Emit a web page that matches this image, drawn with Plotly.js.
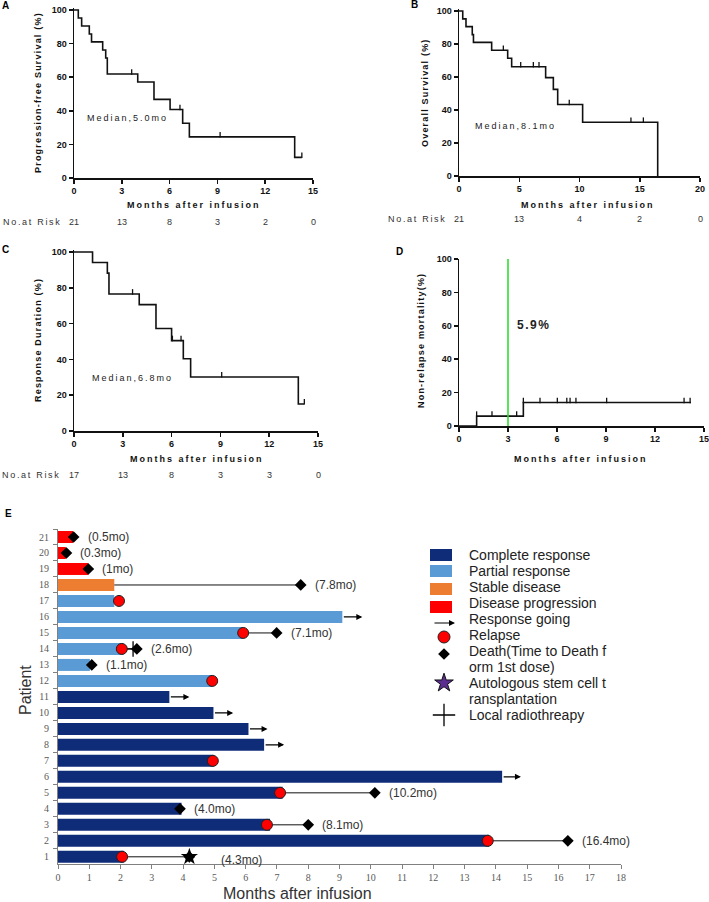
<!DOCTYPE html>
<html><head><meta charset="utf-8">
<script src="https://cdn.plot.ly/plotly-3.0.1.min.js"></script>
<style>
html,body{margin:0;padding:0;background:#fff;}
#chart{width:709px;height:902px;}
text[data-unformatted="<b>Months after infusion</b>"]{letter-spacing:2px;}
text[data-unformatted^="<b>Progression"],text[data-unformatted^="<b>Overall"],text[data-unformatted^="<b>Response Dur"],text[data-unformatted^="<b>Non-relapse"]{letter-spacing:1.2px;}
text[data-unformatted^="Median"]{letter-spacing:2px;}
text[data-unformatted="No.at Risk"]{letter-spacing:1.7px;}
text[data-unformatted="<b>5.9%</b>"]{letter-spacing:1.5px;}
</style></head>
<body><div id="chart"></div>
<script>
// ---------------- DATA ----------------
// A: Progression-free survival
const pfsTime = [0, 0.27, 0.48, 0.96, 1.1, 1.8, 1.99, 2.09, 4.0, 5.02, 6.03, 6.82, 7.24, 13.85, 14.3];
const pfsSurv = [100, 95.2, 90.5, 85.7, 81.0, 76.2, 71.4, 61.9, 57.1, 46.8, 40.8, 32.6, 24.5, 12.3, 12.3];
const pfsCensor = [3.62, 6.65, 9.17, 14.3];
const pfsRiskTimes = [0, 3, 6, 9, 12, 15];
const pfsRisk = [21, 13, 8, 3, 2, 0];
// B: Overall survival
const osTime = [0, 0.31, 0.58, 1.1, 1.2, 2.71, 4.04, 4.37, 7.19, 7.83, 8.19, 10.26, 16.49];
const osSurv = [100, 95.2, 90.5, 85.7, 81.0, 76.2, 71.4, 66.2, 59.6, 52.5, 43.3, 32.6, 0];
const osCensor = [3.68, 5.12, 6.17, 6.64, 9.15, 14.27, 15.3];
const osRiskTimes = [0, 5, 10, 15, 20];
const osRisk = [21, 13, 4, 2, 0];
// C: Response duration
const drTime = [0, 1.14, 2.05, 2.15, 4.01, 5.04, 6.0, 6.72, 7.17, 13.79, 14.16];
const drResp = [100, 94.1, 88.2, 76.5, 70.6, 57.3, 50.5, 40.4, 30.2, 15.1, 15.1];
const drCensor = [3.6, 6.05, 6.58, 9.08, 14.16];
const drRiskTimes = [0, 3, 6, 9, 12, 15];
const drRisk = [17, 13, 8, 3, 3, 0];
// D: Non-relapse mortality
const nrmTime = [0, 1.08, 3.94, 14.2];
const nrmRate = [0, 5.9, 14.1, 14.1];
const nrmCensor = [1.08, 2.02, 3.53, 3.94, 4.96, 6.02, 6.6, 6.8, 7.16, 9.04, 13.78, 14.15];
const nrmLandmark = 3;
const nrmLandmarkLabel = '5.9%';
// E: swimmer plot
const patients = [1,2,3,4,5,6,7,8,9,10,11,12,13,14,15,16,17,18,19,20,21];
const bestResponse = ['CR','CR','CR','CR','CR','CR','CR','CR','CR','CR','CR','PR','PR','PR','PR','PR','PR','SD','PD','PD','PD'];
const durationMo = [2.1, 13.78, 6.78, 3.95, 7.18, 14.2, 4.97, 6.59, 6.09, 4.97, 3.56, 4.93, 1.02, 2.09, 5.9, 9.09, 1.8, 1.8, 0.97, 0.25, 0.48];
const relapsePatients = [1, 2, 3, 5, 7, 12, 14, 15, 17];
const relapseMo = [2.05, 13.74, 6.68, 7.1, 4.95, 4.93, 2.04, 5.92, 1.95];
const deathPatients = [1, 2, 3, 4, 5, 13, 14, 15, 18, 19, 20, 21];
const deathMo = [4.2, 16.3, 8.0, 3.9, 10.13, 1.08, 2.52, 6.99, 7.76, 0.97, 0.27, 0.5];
const deathLabels = ['(4.3mo)', '(16.4mo)', '(8.1mo)', '(4.0mo)', '(10.2mo)', '(1.1mo)', '(2.6mo)', '(7.1mo)', '(7.8mo)', '(1mo)', '(0.3mo)', '(0.5mo)'];
const ongoingPatients = [6, 8, 9, 10, 11, 16];
const ongoingArrowMo = [14.8, 7.23, 6.7, 5.6, 4.2, 9.73];
const asctPatients = [1];
const asctMo = [4.2];
const radioPatients = [14];
const radioMo = [2.4];
const responseNames = ['Complete response', 'Partial response', 'Stable disease', 'Disease progression'];
const responseKeys = ['CR', 'PR', 'SD', 'PD'];
const responseColors = ['#0f2c79', '#5b9bd5', '#ed7d31', '#ff0000'];
const legendLines = ['Complete response','Partial response','Stable disease','Disease progression','Response going','Relapse','Death(Time to Death f','orm 1st dose)','Autologous stem cell t','ransplantation','Local radiothreapy'];

// ---------------- HELPERS ----------------
const W = 709, H = 902;
const px = x => x / W, py = y => 1 - y / H;
const ARIAL = 'Arial, "Liberation Sans", sans-serif';
const SERIF = '"Liberation Serif", "Times New Roman", serif';
function stepAt(T, S, t) { let v = S[0]; for (let i = 0; i < T.length; i++) if (T[i] <= t + 1e-9) v = S[i]; return v; }
function yDom(y0px, y100px, top) { return [py(y0px), py(y100px - (y0px - y100px) * (top - 100) / 100)]; }

function kmAxis(domain, range, tickvals, anchor) {
  return { domain, range, tickmode: 'array', tickvals, anchor, showline: true, linecolor: '#111', linewidth: 1.5,
    ticks: 'outside', ticklen: 4, tickwidth: 1.5, tickcolor: '#111', showgrid: false, zeroline: false, fixedrange: true,
    ticklabeloverflow: 'allow',
    tickfont: { family: ARIAL, size: 9, color: '#111', weight: 'bold' } };
}

const traces = [];
function kmTraces(T, S, C, xa, ya) {
  traces.push({ type: 'scatter', mode: 'lines', x: T, y: S, xaxis: xa, yaxis: ya, hoverinfo: 'skip',
    line: { shape: 'hv', color: '#111', width: 1.6 } });
  traces.push({ type: 'scatter', mode: 'markers', x: C, y: C.map(t => stepAt(T, S, t) + 1.2), xaxis: xa, yaxis: ya,
    hoverinfo: 'skip', cliponaxis: false,
    marker: { symbol: 'line-ns', size: 4, color: '#111', line: { width: 1.3, color: '#111' } } });
}
kmTraces(pfsTime, pfsSurv, pfsCensor, 'x', 'y');
kmTraces(osTime, osSurv, osCensor, 'x2', 'y2');
kmTraces(drTime, drResp, drCensor, 'x3', 'y3');
kmTraces(nrmTime, nrmRate, nrmCensor, 'x4', 'y4');
// green landmark line
traces.push({ type: 'scatter', mode: 'lines', x: [nrmLandmark, nrmLandmark], y: [0, 100], xaxis: 'x4', yaxis: 'y4',
  hoverinfo: 'skip', line: { color: '#22dd22', width: 1.5 } });

// ---- E ----
traces.push({ type: 'bar', orientation: 'h', x: durationMo, y: patients, xaxis: 'x5', yaxis: 'y5', width: 0.75,
  hoverinfo: 'skip', marker: { color: bestResponse.map(r => responseColors[responseKeys.indexOf(r)]), line: { width: 0 } } });
// connectors
const cx = [], cy = [];
deathPatients.forEach((p, i) => {
  const ri = relapsePatients.indexOf(p);
  const start = ri >= 0 ? relapseMo[ri] : durationMo[p - 1];
  if (deathMo[i] - start > 0.15) { cx.push(start, deathMo[i], null); cy.push(p, p, null); }
});
traces.push({ type: 'scatter', mode: 'lines', x: cx, y: cy, xaxis: 'x5', yaxis: 'y5', hoverinfo: 'skip',
  line: { color: '#111', width: 1 } });
traces.push({ type: 'scatter', mode: 'markers', x: radioMo, y: radioPatients, xaxis: 'x5', yaxis: 'y5', hoverinfo: 'skip',
  marker: { symbol: 'cross-thin', size: 11, line: { width: 1.3, color: '#000' } } });
traces.push({ type: 'scatter', mode: 'markers', x: relapseMo, y: relapsePatients, xaxis: 'x5', yaxis: 'y5', hoverinfo: 'skip',
  cliponaxis: false, marker: { symbol: 'circle', size: 11, color: '#ff0000', line: { width: 1, color: '#222' } } });
traces.push({ type: 'scatter', mode: 'markers', x: deathMo, y: deathPatients, xaxis: 'x5', yaxis: 'y5', hoverinfo: 'skip',
  cliponaxis: false, marker: { symbol: 'diamond', size: 9, color: '#000' } });
traces.push({ type: 'scatter', mode: 'markers', x: asctMo, y: asctPatients, xaxis: 'x5', yaxis: 'y5', hoverinfo: 'skip',
  cliponaxis: false, marker: { symbol: 'star', size: 13, color: '#000' } });

// legend symbols (overlay pixel axes)
traces.push({ type: 'scatter', mode: 'markers', x: [444], y: [637], xaxis: 'x6', yaxis: 'y6', hoverinfo: 'skip', cliponaxis: false,
  marker: { symbol: 'circle', size: 12, color: '#ff0000', line: { width: 1, color: '#222' } } });
traces.push({ type: 'scatter', mode: 'markers', x: [444], y: [654], xaxis: 'x6', yaxis: 'y6', hoverinfo: 'skip', cliponaxis: false,
  marker: { symbol: 'diamond', size: 9, color: '#000' } });
traces.push({ type: 'scatter', mode: 'markers', x: [444], y: [683], xaxis: 'x6', yaxis: 'y6', hoverinfo: 'skip', cliponaxis: false,
  marker: { symbol: 'star', size: 14, color: '#5b2d90', line: { width: 1, color: '#111' } } });
traces.push({ type: 'scatter', mode: 'markers', x: [444], y: [715], xaxis: 'x6', yaxis: 'y6', hoverinfo: 'skip', cliponaxis: false,
  marker: { symbol: 'cross-thin', size: 16, line: { width: 1.3, color: '#000' } } });

// ---------------- ANNOTATIONS ----------------
const annotations = [];
function ann(text, x, y, o) { annotations.push(Object.assign({ text, x: px(x), y: py(y), xref: 'paper', yref: 'paper', showarrow: false, xanchor: 'center', yanchor: 'middle' }, o || {})); }
const f = (size, color, extra) => Object.assign({ family: ARIAL, size, color: color || '#111' }, extra || {});

ann('<b>A</b>', 0, 6, { xanchor: 'left', font: f(10, '#000') });
ann('<b>B</b>', 409, 5, { xanchor: 'left', font: f(10, '#000') });
ann('<b>C</b>', 0, 250, { xanchor: 'left', font: f(10, '#000') });
ann('<b>D</b>', 394, 251, { xanchor: 'left', font: f(10, '#000') });
ann('<b>E</b>', 3, 513, { xanchor: 'left', font: f(10, '#000') });

ann('<b>Months after infusion</b>', 194, 205, { font: f(9) });
ann('<b>Months after infusion</b>', 588, 205, { font: f(9) });
ann('<b>Months after infusion</b>', 197, 459, { font: f(9) });
ann('<b>Months after infusion</b>', 581, 459, { font: f(9) });

ann('<b>Progression-free Survival (%)</b>', 38, 93, { textangle: -90, font: f(9) });
ann('<b>Overall Survival (%)</b>', 425, 92, { textangle: -90, font: f(9) });
ann('<b>Response Duration (%)</b>', 38, 340, { textangle: -90, font: f(9) });
ann('<b>Non-relapse mortality(%)</b>', 421, 341, { textangle: -90, font: f(9) });

annotations.push({ text: 'Median,5.0mo', x: 0.7, y: 35.7, xref: 'x', yref: 'y', xanchor: 'left', yanchor: 'middle', showarrow: false, font: f(9, '#222') });
annotations.push({ text: 'Median,8.1mo', x: 1.16, y: 30.3, xref: 'x2', yref: 'y2', xanchor: 'left', yanchor: 'middle', showarrow: false, font: f(9, '#222') });
annotations.push({ text: 'Median,6.8mo', x: 0.98, y: 29.6, xref: 'x3', yref: 'y3', xanchor: 'left', yanchor: 'middle', showarrow: false, font: f(9, '#222') });
annotations.push({ text: '<b>' + nrmLandmarkLabel + '</b>', x: 3.43, y: 60.5, xref: 'x4', yref: 'y4', xanchor: 'left', yanchor: 'middle', showarrow: false, font: f(12, '#222') });

function riskRow(times, counts, xa, labelX, rowY) {
  ann('No.at Risk', labelX, rowY, { xanchor: 'left', font: f(9, '#333') });
  times.forEach((t, i) => annotations.push({ text: String(counts[i]), x: t, xref: xa, y: py(rowY), yref: 'paper',
    xanchor: 'center', yanchor: 'middle', showarrow: false, font: f(9, '#333') }));
}
riskRow(pfsRiskTimes, pfsRisk, 'x', 1, 222);
riskRow(osRiskTimes, osRisk, 'x2', 386, 219);
riskRow(drRiskTimes, drRisk, 'x3', 0, 475);

// E annotations (labels pushed further right when an ASCT star sits on the death marker)
deathPatients.forEach((p, i) => {
  const hasStar = asctPatients.indexOf(p) >= 0;
  annotations.push({ text: deathLabels[i], x: deathMo[i], y: p, xref: 'x5', yref: 'y5',
    xanchor: 'left', yanchor: 'middle', xshift: hasStar ? 30 : 12, yshift: hasStar ? -3 : 0, showarrow: false, font: f(12, '#333') });
});
ongoingPatients.forEach((p, i) => annotations.push({ text: '', x: ongoingArrowMo[i], y: p, xref: 'x5', yref: 'y5',
  ax: durationMo[p - 1], ay: p, axref: 'x5', ayref: 'y5', showarrow: true, arrowhead: 2, arrowsize: 1, arrowwidth: 1.2,
  arrowcolor: '#000', standoff: 0, startstandoff: 0 }));
ann('Patient', 25, 690, { textangle: -90, font: f(16, '#333') });
ann('Months after infusion', 297, 893, { font: f(16, '#333') });
legendLines.forEach((t, i) => ann(t, 467, 555 + 16 * i, { xanchor: 'left', font: f(14, '#222') }));
annotations.push({ text: '', x: px(455), y: py(623), xref: 'paper', yref: 'paper', ax: -22, ay: 0, showarrow: true,
  arrowhead: 2, arrowsize: 1, arrowwidth: 1.2, arrowcolor: '#000', standoff: 0 });

// shapes: legend swatches
const swatchY = [555, 571, 589, 607];
const shapes = responseNames.map((n, i) => ({ type: 'rect', xref: 'paper', yref: 'paper', x0: px(430), x1: px(452),
  y0: py(swatchY[i] + 6), y1: py(swatchY[i] - 6), fillcolor: responseColors[i], line: { width: 0 } }));

// ---------------- LAYOUT ----------------
const eTick = { family: SERIF, size: 10, color: '#595959' };
const layout = {
  width: W, height: H, margin: { l: 0, r: 0, t: 0, b: 0 }, paper_bgcolor: '#fff', plot_bgcolor: 'rgba(0,0,0,0)',
  showlegend: false,
  xaxis: kmAxis([px(74), px(313)], [0, 15], [0, 3, 6, 9, 12, 15], 'y'),
  yaxis: kmAxis(yDom(178, 10, 101), [0, 101], [0, 20, 40, 60, 80, 100], 'x'),
  xaxis2: kmAxis([px(459), px(700)], [0, 20], [0, 5, 10, 15, 20], 'y2'),
  yaxis2: kmAxis(yDom(176, 11, 101), [0, 101], [0, 20, 40, 60, 80, 100], 'x2'),
  xaxis3: kmAxis([px(74), px(318)], [0, 15], [0, 3, 6, 9, 12, 15], 'y3'),
  yaxis3: kmAxis(yDom(431, 252, 101), [0, 101], [0, 20, 40, 60, 80, 100], 'x3'),
  xaxis4: kmAxis([px(459), px(704)], [0, 15], [0, 3, 6, 9, 12, 15], 'y4'),
  yaxis4: kmAxis(yDom(426, 259, 100), [0, 100], [0, 20, 40, 60, 80, 100], 'x4'),
  xaxis5: { domain: [px(58), px(621)], range: [0, 18], anchor: 'y5', tickmode: 'linear', tick0: 0, dtick: 1,
    showline: true, linecolor: '#808080', linewidth: 1, ticks: 'outside', ticklen: 4, tickcolor: '#808080',
    showgrid: false, zeroline: false, tickfont: eTick, fixedrange: true },
  yaxis5: { domain: [py(864), py(529)], range: [0.55, 21.5], anchor: 'x5', tickmode: 'array', tickvals: patients,
    showline: true, linecolor: '#808080', linewidth: 1, ticks: '', showgrid: false, zeroline: false, tickfont: eTick,
    ticklabelstandoff: 6, fixedrange: true,
    minor: { tickmode: 'linear', tick0: 0.5, dtick: 1, ticks: 'outside', ticklen: 4, tickcolor: '#808080', showgrid: false } },
  xaxis6: { domain: [0, 1], range: [0, W], anchor: 'y6', visible: false, fixedrange: true },
  yaxis6: { domain: [0, 1], range: [H, 0], anchor: 'x6', visible: false, fixedrange: true },
  annotations, shapes
};
Plotly.newPlot('chart', traces, layout, { staticPlot: true, displayModeBar: false });
</script></body></html>
